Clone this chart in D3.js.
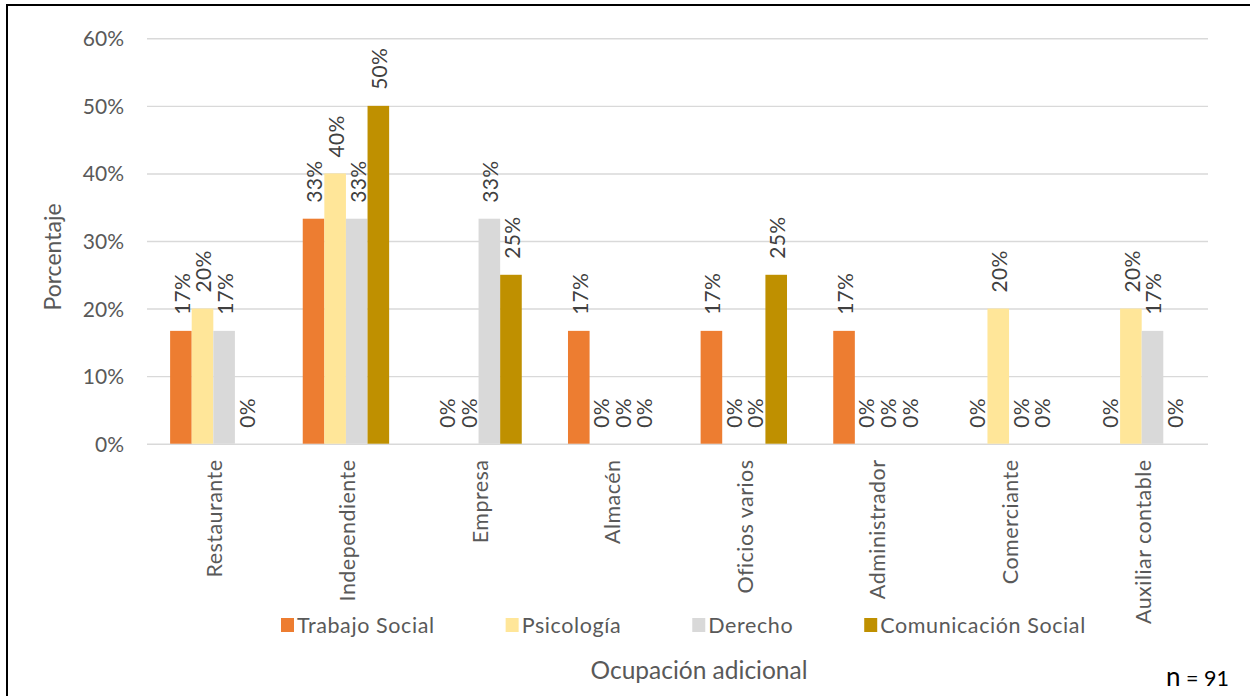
<!DOCTYPE html>
<html>
<head>
<meta charset="utf-8">
<script src="https://cdn.jsdelivr.net/npm/d3@7"></script>
<style>
  html, body { margin: 0; padding: 0; background: #fff; }
  svg { display: block; font-family: Lato, "Noto Sans", sans-serif; }
</style>
</head>
<body>
<svg id="chart" width="1250" height="696"></svg>
<script>
// Occupation categories along the x axis
const categories = ["Restaurante", "Independiente", "Empresa", "Almacén",
  "Oficios varios", "Administrador", "Comerciante", "Auxiliar contable"];

// Programs (series)
const series = ["Trabajo Social", "Psicología", "Derecho", "Comunicación Social"];
const seriesColors = ["#ED7D31", "#FFE699", "#D9D9D9", "#BF9000"];

// Percentage of each program per occupation (same order as categories)
const trabajoSocial      = [16.7, 33.3, 0,    16.7, 16.7, 16.7, 0,  0];
const psicologia         = [20,   40,   0,    0,    0,    0,    20, 20];
const derecho            = [16.7, 33.3, 33.3, 0,    0,    0,    0,  16.7];
const comunicacionSocial = [0,    50,   25,   0,    25,   0,    0,  0];

// Y axis ticks (percent)
const yTicks = [0, 10, 20, 30, 40, 50, 60];

const seriesValues = [trabajoSocial, psicologia, derecho, comunicacionSocial];
const rows = categories.map((c, i) => ({
  category: c,
  values: series.map((s, j) => ({ series: s, idx: j, value: seriesValues[j][i] }))
}));

const svg = d3.select("#chart");
const plot = { left: 147, right: 1208, top: 38.3, bottom: 443.7 };

const x0 = d3.scaleBand().domain(categories).range([plot.left, plot.right]).padding(0);
const x1 = d3.scaleBand().domain(series).range([0, x0.bandwidth()])
  .paddingInner(0).paddingOuter(1.07);
const y = d3.scaleLinear().domain([0, 60]).range([plot.bottom, plot.top]);

const textGray = "#595959";
const labelGray = "#404040";

// Outer frame
svg.append("rect")
  .attr("x", 7).attr("y", 5).attr("width", 1300).attr("height", 760)
  .attr("fill", "none").attr("stroke", "#000").attr("stroke-width", 2);

// Gridlines and y tick labels via axis
const yAxis = d3.axisLeft(y).tickValues(yTicks)
  .tickSize(-(plot.right - plot.left)).tickPadding(23)
  .tickFormat(d => d + "%");
const gy = svg.append("g").attr("transform", `translate(${plot.left},0)`).call(yAxis);
gy.select(".domain").remove();
gy.selectAll(".tick line").attr("stroke", "#D9D9D9").attr("stroke-width", 1.4);
gy.selectAll(".tick text")
  .attr("fill", textGray).attr("font-size", 21).attr("font-family", "Lato")
  .attr("dy", "0.36em");

// Bars
const groups = svg.append("g").selectAll("g").data(rows).join("g")
  .attr("transform", d => `translate(${x0(d.category)},0)`);

groups.selectAll("rect").data(d => d.values).join("rect")
  .attr("x", d => x1(d.series))
  .attr("y", d => y(d.value))
  .attr("width", x1.bandwidth())
  .attr("height", d => y(0) - y(d.value))
  .attr("fill", d => seriesColors[d.idx]);

// Rotated data labels above each bar
groups.selectAll("text.val").data(d => d.values).join("text")
  .attr("class", "val")
  .attr("transform", d => `translate(${x1(d.series) + x1.bandwidth() / 2},${y(d.value) - 16}) rotate(-90)`)
  .attr("dy", "0.42em")
  .attr("text-anchor", "start")
  .attr("font-size", 21)
  .attr("letter-spacing", 0.3)
  .attr("fill", labelGray)
  .text(d => Math.round(d.value) + "%");

// Category labels (rotated)
svg.append("g").selectAll("text").data(categories).join("text")
  .attr("transform", d => `translate(${x0(d) + x0.bandwidth() / 2},459.5) rotate(-90)`)
  .attr("dy", "0.42em")
  .attr("text-anchor", "end")
  .attr("font-size", 21.5)
  .attr("letter-spacing", 0.45)
  .attr("fill", textGray)
  .text(d => d);

// Legend
const legend = svg.append("g");
let lx = 281;
series.forEach((s, i) => {
  const item = legend.append("g").attr("transform", `translate(${lx},618)`);
  item.append("rect").attr("width", 13).attr("height", 14).attr("fill", seriesColors[i]);
  const t = item.append("text").attr("x", 16).attr("y", 7).attr("dy", "0.36em")
    .attr("font-size", 21.5).attr("letter-spacing", 0.6).attr("fill", textGray).text(s);
  lx += 16 + t.node().getComputedTextLength() + 71;
});

// Axis titles
svg.append("text")
  .attr("x", 699).attr("y", 679)
  .attr("text-anchor", "middle").attr("font-size", 24.5).attr("fill", textGray)
  .text("Ocupación adicional");

svg.append("text")
  .attr("transform", "translate(60.5,257) rotate(-90)")
  .attr("text-anchor", "middle").attr("font-size", 23).attr("fill", textGray)
  .text("Porcentaje");

// Sample size note
const note = svg.append("text")
  .attr("x", 1229).attr("y", 686).attr("text-anchor", "end").attr("fill", "#000");
note.append("tspan").attr("font-size", 26).text("n");
note.append("tspan").attr("font-size", 21.5).text(" = 91");
</script>
</body>
</html>
